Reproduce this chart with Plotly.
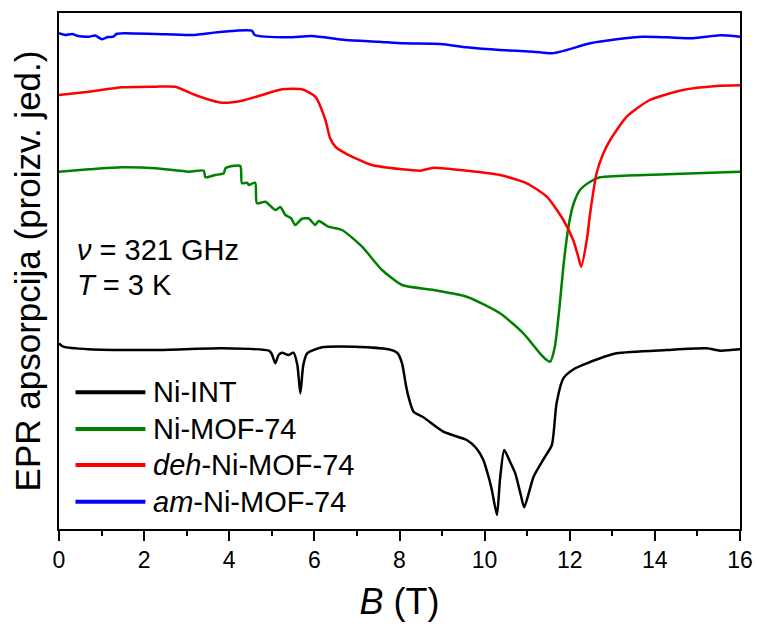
import plotly.graph_objects as go

# ---------------- data (B in T, absorption in arbitrary units) ----------------
ni_int_B = [0, 0.1, 0.7, 2.27, 3.83, 4.93, 5.0, 5.08, 5.16, 5.24, 5.39, 5.51, 5.6, 5.67, 5.74, 5.83,
            6.18, 6.96, 7.74, 7.95, 8.06, 8.15, 8.21, 8.33, 8.56, 9.03, 9.58, 9.8, 9.97, 10.1, 10.17,
            10.29, 10.36, 10.46, 10.6, 10.72, 10.85, 10.93, 11.15, 11.4, 11.58, 11.69, 11.85, 12.1,
            12.4, 13.1, 14.28, 15.22, 15.53, 16]
ni_int_y = [185.5, 182.3, 179.7, 179, 180.7, 178.3, 175, 165.7, 174, 176.3, 174, 176.3, 164, 135.7, 164, 175.7,
            181.7, 182.3, 179.7, 176, 165.7, 144, 132.3, 117.3, 111.7, 97.3, 89, 81, 69, 51, 39,
            14, 49, 79, 67, 55.7, 34, 21.7, 52.3, 71, 84, 125.7, 150.7, 160,
            165.7, 175.7, 179, 180.7, 178.3, 179.7]

mof_B = [0, 0.7, 1.48, 2.27, 3.05, 3.40, 3.44, 3.67, 3.87, 3.91, 4.07, 4.26, 4.30, 4.42, 4.46, 4.61, 4.65,
         4.85, 5.08, 5.2, 5.32, 5.45, 5.55, 5.7, 5.86, 6.02, 6.1, 6.33, 6.65, 7.12, 7.59, 8.06, 8.8, 9.58,
         10.36, 10.91, 11.30, 11.46, 11.54, 11.65, 11.76, 11.85, 11.97, 12.08, 12.24, 12.48, 12.71,
         13.1, 14.28, 16]
mof_y = [357.3, 359.7, 361.7, 360.7, 357.3, 358.3, 351.7, 354, 355.7, 360.7, 363, 363, 345.7, 346.3, 344, 346.3, 325.7,
         327.3, 319, 322, 314, 311, 304, 310, 310.7, 304, 308, 302.3, 299, 282.3, 259, 244, 239, 232.3,
         215.7, 195.7, 175.7, 169, 167.3, 182.3, 222.3, 262.3, 302.3, 324, 339, 347.3, 351.7,
         353, 354.7, 357.3]

deh_B = [0, 0.7, 1.48, 2.27, 2.73, 3.2, 3.83, 4.3, 4.77, 5.24, 5.71, 6.02, 6.26, 6.37, 6.5, 6.73, 7.35,
         8.06, 8.49, 8.8, 9.58, 10.36, 10.99, 11.46, 11.85, 12.08, 12.2, 12.27, 12.4, 12.48, 12.63, 12.79,
         12.95, 13.34, 13.88, 14.66, 15.45, 16]
deh_y = [434, 437.3, 441.7, 442.3, 442.3, 434, 426.3, 428.3, 434, 439.7, 439.7, 432.3, 409, 390.7, 382, 375.7, 364,
         359.7, 358.3, 361.3, 358.3, 354, 345.7, 332.3, 309, 289, 272.3, 262.3, 289, 316, 355.7, 375.7,
         389, 412.3, 429, 439, 443, 443.7]

am_B = [0, 0.15, 0.31, 0.45, 0.7, 0.85, 1.01, 1.15, 1.28, 1.35, 1.52, 2.27, 3.13, 3.83, 4.53, 4.6, 5.39,
        5.94, 6.73, 7.5, 8.09, 8.96, 9.58, 10.36, 11.14, 11.58, 11.93, 12.48, 13.1, 13.72, 14.28, 14.9,
        15.53, 16]
am_y = [495.7, 494, 495, 493, 492.3, 493.5, 489.7, 492, 492.3, 495, 495.7, 495, 494, 497.3, 498.3, 494, 491.7,
        493, 489, 487.3, 485.7, 485, 481.7, 479, 477.3, 475.7, 479, 485.7, 489.7, 492.3, 491.7, 490.7,
        493.7, 492.3]

series_names = ["Ni-INT", "Ni-MOF-74", "<i>deh</i>-Ni-MOF-74", "<i>am</i>-Ni-MOF-74"]
series_colors = ["#000000", "#008000", "#FF0000", "#0000FF"]
x_ticks = [0, 2, 4, 6, 8, 10, 12, 14, 16]

FONT = "Liberation Sans, Arial, sans-serif"

fig = go.Figure()
for (bx, yy), name, col in zip([(ni_int_B, ni_int_y), (mof_B, mof_y), (deh_B, deh_y), (am_B, am_y)],
                               series_names, series_colors):
    fig.add_trace(go.Scatter(x=bx, y=yy, mode="lines", name=name, showlegend=False,
                             line=dict(color=col, width=2.5, shape="spline", smoothing=0.6)))

# legend drawn in the lower-left corner of the frame (tighter row spacing than the built-in legend)
legend_rows = [0.265, 0.194, 0.124, 0.053]
for name, col, ry in zip(series_names, series_colors, legend_rows):
    fig.add_shape(type="line", xref="paper", yref="paper", x0=0.0242, x1=0.1269, y0=ry, y1=ry,
                  line=dict(color=col, width=4))
    fig.add_annotation(xref="paper", yref="paper", x=0.1345, y=ry, xanchor="left", yanchor="middle",
                       text=name, showarrow=False, font=dict(size=29, family=FONT))

fig.update_layout(
    width=757, height=628, autosize=False,
    margin=dict(l=58.5, r=17, t=13, b=99, autoexpand=False),
    paper_bgcolor="white", plot_bgcolor="white",
    font=dict(family=FONT, color="black"),
    showlegend=False,
    xaxis=dict(range=[0, 16], tickvals=x_ticks, ticks="outside", ticklen=10, tickwidth=1.5,
               tickcolor="black", tickfont=dict(size=23, family=FONT), automargin=False,
               minor=dict(dtick=1, ticks="outside", ticklen=5, tickwidth=1.5, tickcolor="black"),
               showline=True, linecolor="black", linewidth=1.5, mirror=True,
               showgrid=False, zeroline=False,
               title=dict(text="<i>B</i> (T)", font=dict(size=36, family=FONT), standoff=16)),
    yaxis=dict(range=[0, 516], showticklabels=False, ticks="", showline=True, linecolor="black",
               linewidth=1.5, mirror=True, showgrid=False, zeroline=False, automargin=False,
               title=dict(text="EPR apsorpcija (proizv. jed.)", font=dict(size=35, family=FONT),
                          standoff=6)),
)

fig.add_annotation(xref="paper", yref="paper", x=0.023, y=0.541, xanchor="left", yanchor="middle",
                   text="<i>ν</i> = 321 GHz", showarrow=False, font=dict(size=29, family=FONT))
fig.add_annotation(xref="paper", yref="paper", x=0.023, y=0.473, xanchor="left", yanchor="middle",
                   text="<i>T</i> = 3 K", showarrow=False, font=dict(size=29, family=FONT))

fig.write_html("out.html",
               config={"responsive": False, "displayModeBar": False},
               post_script="document.body.style.margin='0px';")
